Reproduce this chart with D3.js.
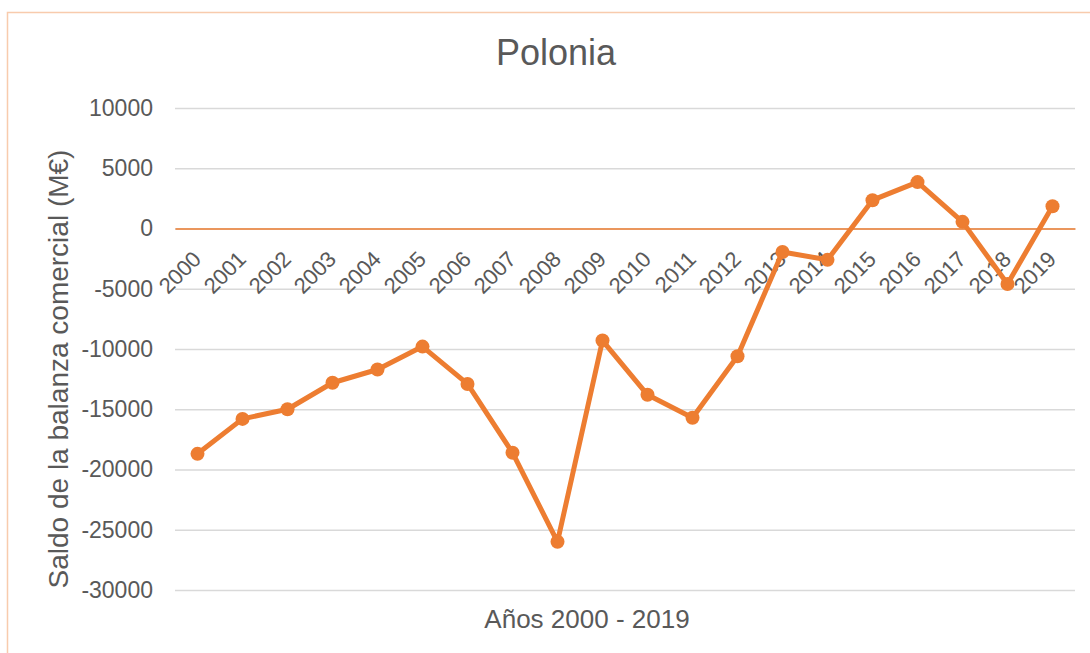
<!DOCTYPE html>
<html lang="es">
<meta charset="utf-8">
<style>
  body { margin: 0; background: #fff; }
  svg { display: block; font-family: "Liberation Sans", Arial, sans-serif; }
</style>
<body>
<div id="chart"></div>

<script src="https://d3js.org/d3.v7.min.js" type="text/javascript"></script>

<script type="text/javascript">

// data
var years = ["2000", "2001", "2002", "2003", "2004", "2005", "2006", "2007", "2008", "2009",
             "2010", "2011", "2012", "2013", "2014", "2015", "2016", "2017", "2018", "2019"];
var saldo = [-18700, -15800, -15000, -12800, -11700, -9800, -12900, -18600, -26000, -9300,
             -13800, -15700, -10600, -1950, -2600, 2350, 3850, 550, -4600, 1850];
var yTicks = [10000, 5000, 0, -5000, -10000, -15000, -20000, -25000, -30000];

var W = 1090, H = 653;
var margin = {top: 108, right: 15, bottom: 63, left: 175};
var width = W - margin.left - margin.right,
    height = H - margin.top - margin.bottom;

var orange = "#ED7D31", textCol = "#595959";

var svg = d3.select("#chart")
  .append("svg")
    .attr("width", W)
    .attr("height", H);

// chart frame
svg.append("rect")
  .attr("x", 7.5).attr("y", 12.5)
  .attr("width", 1200).attr("height", 800)
  .attr("fill", "none")
  .attr("stroke", "#F8CBAD")
  .attr("stroke-width", 1.5);

var g = svg.append("g")
  .attr("transform", "translate(" + margin.left + "," + margin.top + ")");

var x = d3.scaleBand()
  .domain(years)
  .range([0, width]);

var y = d3.scaleLinear()
  .domain([-30000, 10000])
  .range([height, 0]);

// horizontal gridlines + y labels
var yAxis = g.append("g")
  .call(d3.axisLeft(y).tickValues(yTicks).tickSize(-width)
    .tickFormat(function(d) { return String(d); }).tickPadding(22));
yAxis.select(".domain").remove();
yAxis.selectAll(".tick line")
  .attr("stroke", "#D9D9D9")
  .attr("stroke-width", 1.5);
yAxis.selectAll(".tick text")
  .attr("fill", textCol)
  .style("font-size", "23px");

// category axis on the zero line
var xAxis = g.append("g")
  .attr("transform", "translate(0," + y(0) + ")")
  .call(d3.axisBottom(x).tickSize(0).tickPadding(0));
xAxis.select(".domain")
  .attr("stroke", orange)
  .attr("stroke-width", 1.5);
xAxis.selectAll(".tick text")
  .attr("fill", textCol)
  .style("font-size", "22px")
  .attr("text-anchor", "end")
  .attr("dy", null)
  .attr("transform", "translate(5,32) rotate(-45)");

// line and markers
var line = d3.line()
  .x(function(d, i) { return x(years[i]) + x.bandwidth() / 2; })
  .y(function(d) { return y(d); });

g.append("path")
  .datum(saldo)
  .attr("d", line)
  .attr("fill", "none")
  .attr("stroke", orange)
  .attr("stroke-width", 5)
  .attr("stroke-linejoin", "round");

g.selectAll(".dot")
  .data(saldo)
  .enter()
  .append("circle")
    .attr("class", "dot")
    .attr("cx", function(d, i) { return x(years[i]) + x.bandwidth() / 2; })
    .attr("cy", function(d) { return y(d); })
    .attr("r", 7)
    .attr("fill", orange);

// titles
svg.append("text")
  .attr("x", 556).attr("y", 65)
  .attr("text-anchor", "middle")
  .attr("fill", textCol)
  .style("font-size", "36px")
  .text("Polonia");

svg.append("text")
  .attr("transform", "translate(68,369) rotate(-90)")
  .attr("text-anchor", "middle")
  .attr("fill", textCol)
  .style("font-size", "28px")
  .text("Saldo de la balanza comercial (M€)");

svg.append("text")
  .attr("x", 587).attr("y", 628)
  .attr("text-anchor", "middle")
  .attr("fill", textCol)
  .style("font-size", "26px")
  .text("Años 2000 - 2019");

</script>
</body>
</html>
